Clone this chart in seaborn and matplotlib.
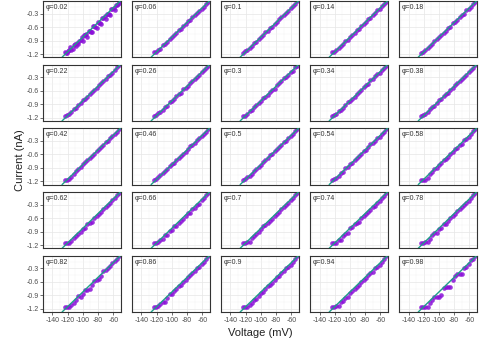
import numpy as np
import pandas as pd
import matplotlib
matplotlib.use("Agg")
import matplotlib.pyplot as plt
import seaborn as sns

# ---------------- data ----------------
phi_labels = ["0.02", "0.06", "0.1", "0.14", "0.18",
              "0.22", "0.26", "0.3", "0.34", "0.38",
              "0.42", "0.46", "0.5", "0.54", "0.58",
              "0.62", "0.66", "0.7", "0.74", "0.78",
              "0.82", "0.86", "0.9", "0.94", "0.98"]

voltage = [-124, -121, -118, -115, -112, -109, -106, -103, -100, -97, -94, -91, -88,
           -85, -82, -79, -76, -73, -70, -67, -64, -61, -58, -55, -52]
voltage_extra = [-122.5, -119.5, -116.5, -113.5, -110.5, -107.5, -104.5, -101.5, -98.5,
                 -95.5, -92.5, -89.5, -86.5, -83.5, -80.5, -77.5, -74.5, -71.5, -68.5,
                 -65.5, -62.5, -59.5, -56.5, -53.5, -51.5]
current_extra_002 = [-1.18, -1.13, -1.05, -1.08, -0.97, -0.95, -0.90, -0.83, -0.78, -0.76, -0.68,
                     -0.70, -0.58, -0.60, -0.48, -0.50, -0.40, -0.36, -0.30, -0.30, -0.20, -0.18,
                     -0.10, -0.08, -0.02]

currents = {
    "0.02": [-1.15, -1.17, -1.10, -1.12, -1.00, -1.03, -0.97, -0.88, -0.90, -0.78, -0.82, -0.68, -0.70,
             -0.58, -0.62, -0.50, -0.53, -0.40, -0.43, -0.30, -0.33, -0.20, -0.22, -0.10, -0.06],
    "0.06": [-1.16, -1.15, -1.10, -1.08, -1.01, -0.97, -0.93, -0.86, -0.83, -0.77, -0.74, -0.67, -0.64,
             -0.58, -0.54, -0.47, -0.44, -0.38, -0.34, -0.28, -0.24, -0.19, -0.15, -0.08, -0.04],
    "0.1": [-1.17, -1.14, -1.11, -1.06, -1.03, -0.96, -0.93, -0.87, -0.81, -0.78, -0.72, -0.69, -0.62,
            -0.59, -0.53, -0.49, -0.43, -0.37, -0.34, -0.28, -0.25, -0.18, -0.14, -0.09, -0.03],
    "0.14": [-1.16, -1.16, -1.12, -1.06, -1.02, -0.98, -0.91, -0.88, -0.82, -0.77, -0.73, -0.67, -0.64,
             -0.57, -0.54, -0.48, -0.42, -0.39, -0.33, -0.29, -0.23, -0.20, -0.13, -0.09, -0.05],
    "0.18": [-1.17, -1.15, -1.10, -1.07, -1.03, -0.97, -0.92, -0.86, -0.83, -0.77, -0.73, -0.68, -0.62,
             -0.59, -0.52, -0.48, -0.44, -0.37, -0.33, -0.30, -0.23, -0.19, -0.15, -0.08, -0.04],
    "0.22": [-1.16, -1.15, -1.12, -1.07, -1.01, -0.98, -0.92, -0.87, -0.81, -0.78, -0.74, -0.67, -0.63,
             -0.58, -0.54, -0.47, -0.43, -0.38, -0.34, -0.28, -0.24, -0.20, -0.14, -0.08, -0.03],
    "0.26": [-1.17, -1.14, -1.10, -1.08, -1.02, -0.96, -0.93, -0.86, -0.82, -0.79, -0.72, -0.68, -0.64,
             -0.57, -0.53, -0.49, -0.42, -0.38, -0.33, -0.29, -0.25, -0.18, -0.14, -0.10, -0.04],
    "0.3": [-1.16, -1.16, -1.11, -1.06, -1.03, -0.97, -0.91, -0.88, -0.83, -0.76, -0.73, -0.69, -0.62,
            -0.58, -0.55, -0.47, -0.43, -0.39, -0.32, -0.29, -0.24, -0.19, -0.15, -0.08, -0.05],
    "0.34": [-1.17, -1.15, -1.12, -1.06, -1.02, -0.98, -0.92, -0.86, -0.82, -0.78, -0.74, -0.67, -0.63,
             -0.59, -0.52, -0.48, -0.44, -0.37, -0.34, -0.28, -0.23, -0.20, -0.13, -0.09, -0.04],
    "0.38": [-1.16, -1.14, -1.11, -1.08, -1.01, -0.97, -0.93, -0.87, -0.81, -0.78, -0.72, -0.68, -0.64,
             -0.58, -0.53, -0.48, -0.43, -0.38, -0.33, -0.30, -0.24, -0.18, -0.14, -0.09, -0.03],
    "0.42": [-1.16, -1.16, -1.15, -1.10, -1.03, -0.96, -0.92, -0.87, -0.82, -0.77, -0.73, -0.68, -0.63,
             -0.58, -0.53, -0.48, -0.43, -0.38, -0.33, -0.29, -0.24, -0.19, -0.14, -0.09, -0.04],
    "0.46": [-1.17, -1.15, -1.11, -1.06, -1.02, -0.97, -0.93, -0.86, -0.82, -0.78, -0.73, -0.67, -0.64,
             -0.58, -0.54, -0.48, -0.42, -0.38, -0.34, -0.28, -0.24, -0.19, -0.15, -0.09, -0.04],
    "0.5": [-1.16, -1.15, -1.10, -1.07, -1.03, -0.96, -0.92, -0.87, -0.83, -0.77, -0.72, -0.68, -0.62,
            -0.59, -0.53, -0.47, -0.44, -0.38, -0.33, -0.29, -0.23, -0.19, -0.14, -0.08, -0.04],
    "0.54": [-1.17, -1.14, -1.12, -1.07, -1.02, -0.98, -0.91, -0.87, -0.82, -0.79, -0.73, -0.68, -0.63,
             -0.58, -0.52, -0.49, -0.43, -0.37, -0.34, -0.29, -0.24, -0.20, -0.14, -0.09, -0.03],
    "0.58": [-1.16, -1.16, -1.16, -1.12, -1.04, -0.98, -0.93, -0.90, -0.84, -0.80, -0.72, -0.70, -0.66,
             -0.60, -0.55, -0.47, -0.45, -0.40, -0.36, -0.28, -0.25, -0.20, -0.15, -0.08, -0.03],
    "0.62": [-1.16, -1.16, -1.15, -1.10, -1.05, -0.99, -0.95, -0.90, -0.84, -0.82, -0.72, -0.70, -0.68,
             -0.60, -0.56, -0.50, -0.46, -0.40, -0.36, -0.30, -0.26, -0.20, -0.15, -0.08, -0.03],
    "0.66": [-1.15, -1.15, -1.14, -1.08, -1.06, -0.98, -0.98, -0.88, -0.86, -0.78, -0.78, -0.70, -0.66,
             -0.62, -0.56, -0.48, -0.48, -0.40, -0.37, -0.30, -0.28, -0.20, -0.16, -0.08, -0.03],
    "0.7": [-1.16, -1.16, -1.13, -1.12, -1.04, -1.00, -0.95, -0.90, -0.85, -0.78, -0.76, -0.70, -0.66,
            -0.62, -0.55, -0.50, -0.46, -0.40, -0.35, -0.30, -0.26, -0.20, -0.15, -0.09, -0.04],
    "0.74": [-1.15, -1.15, -1.15, -1.08, -1.08, -1.00, -0.96, -0.92, -0.82, -0.80, -0.74, -0.70, -0.68,
             -0.60, -0.56, -0.50, -0.46, -0.42, -0.35, -0.32, -0.26, -0.22, -0.15, -0.10, -0.03],
    "0.78": [-1.16, -1.16, -1.14, -1.12, -1.06, -0.98, -0.94, -0.92, -0.84, -0.82, -0.74, -0.72, -0.66,
             -0.60, -0.56, -0.50, -0.44, -0.40, -0.35, -0.30, -0.26, -0.21, -0.14, -0.09, -0.03],
    "0.82": [-1.15, -1.16, -1.15, -1.12, -1.06, -1.00, -0.92, -0.94, -0.88, -0.78, -0.78, -0.76, -0.68,
             -0.58, -0.56, -0.54, -0.46, -0.36, -0.33, -0.30, -0.24, -0.18, -0.14, -0.08, -0.02],
    "0.86": [-1.16, -1.16, -1.14, -1.10, -1.04, -1.04, -0.96, -0.88, -0.86, -0.80, -0.76, -0.70, -0.66,
             -0.60, -0.56, -0.50, -0.44, -0.40, -0.36, -0.30, -0.26, -0.20, -0.16, -0.09, -0.03],
    "0.9": [-1.15, -1.15, -1.15, -1.12, -1.06, -1.00, -0.98, -0.92, -0.84, -0.82, -0.76, -0.70, -0.68,
            -0.62, -0.56, -0.50, -0.46, -0.40, -0.36, -0.30, -0.26, -0.22, -0.15, -0.08, -0.03],
    "0.94": [-1.16, -1.16, -1.14, -1.14, -1.04, -1.02, -0.96, -0.94, -0.84, -0.80, -0.76, -0.72, -0.68,
             -0.60, -0.56, -0.52, -0.44, -0.40, -0.37, -0.30, -0.26, -0.22, -0.15, -0.10, -0.03],
    "0.98": [-1.15, -1.15, -1.15, -1.15, -1.06, -1.00, -0.94, -0.94, -0.94, -0.90, -0.74, -0.72, -0.72,
             -0.72, -0.56, -0.48, -0.42, -0.42, -0.42, -0.30, -0.26, -0.20, -0.12, -0.08, -0.02],
}

# fitted line (abline)
fit_slope = 0.01633
fit_intercept = 0.809

x_ticks = [-140, -120, -100, -80, -60]
y_ticks = [-0.3, -0.6, -0.9, -1.2]

# ---------------- build table ----------------
rows = []
for lab in phi_labels:
    for v, c in zip(voltage, currents[lab]):
        rows.append({"phi": lab, "Voltage": v, "Current": c})
for v, c in zip(voltage_extra, current_extra_002):
    rows.append({"phi": "0.02", "Voltage": v, "Current": c})
df = pd.DataFrame(rows)

# ---------------- style ----------------
sns.set_theme(style="white")
plt.rcParams["font.family"] = ["Liberation Sans", "DejaVu Sans"]
plt.rcParams["axes.unicode_minus"] = False

point_color = "#8a10d8"
line_color = "#1f9e89"

g = sns.FacetGrid(df, col="phi", col_order=phi_labels, col_wrap=5,
                  sharex=True, sharey=True, height=1, aspect=1, despine=False)
g.map_dataframe(sns.scatterplot, x="Voltage", y="Current", color=point_color,
                s=11, linewidth=0, alpha=0.85, zorder=2)

fig = g.figure
fig.set_size_inches(4.8, 3.43)
fig.set_dpi(100)

fmt = matplotlib.ticker.FuncFormatter(lambda v, p: f"{v:g}")
for i, (lab, ax) in enumerate(zip(phi_labels, g.axes.flat)):
    ax.axline((0, fit_intercept), slope=fit_slope, color=line_color, lw=1.0, zorder=3)
    ax.set_xlim(-152, -50)
    ax.set_ylim(-1.27, -0.02)
    ax.set_xticks(x_ticks)
    ax.set_yticks(y_ticks)
    ax.set_xticks([-150, -130, -110, -90, -70, -50], minor=True)
    ax.set_yticks([-0.15, -0.45, -0.75, -1.05], minor=True)
    ax.xaxis.set_major_formatter(fmt)
    ax.yaxis.set_major_formatter(fmt)
    ax.grid(True, which="major", color="#e6e6e6", lw=0.5)
    ax.grid(True, which="minor", color="#f2f2f2", lw=0.3)
    ax.set_axisbelow(True)
    ax.set_facecolor("white")
    for sp in ax.spines.values():
        sp.set_color("#333333")
        sp.set_linewidth(0.8)
    col = i % 5
    row = i // 5
    ax.tick_params(axis="both", which="major", length=2, width=0.5, color="#333333",
                   labelsize=5, labelcolor="#4d4d4d", pad=1.5, direction="out",
                   left=(col == 0), labelleft=(col == 0),
                   bottom=(row == 4), labelbottom=(row == 4))
    ax.tick_params(axis="both", which="minor", length=0)
    ax.set_title("")
    ax.set_xlabel("")
    ax.set_ylabel("")
    ax.text(0.03, 0.95, "φ=" + lab, transform=ax.transAxes, ha="left", va="top",
            fontsize=5, color="#333333")

fig.subplots_adjust(left=43.3 / 480, right=477 / 480, top=1 - 1 / 343, bottom=1 - 312 / 343,
                    wspace=0.148, hspace=0.134)

fig.text(260 / 480, 1 - 333 / 343, "Voltage (mV)", ha="center", va="center", fontsize=8,
         color="#222222")
fig.text(20 / 480, 1 - 160 / 343, "Current (nA)", ha="center", va="center", rotation=90,
         fontsize=8, color="#222222")

fig.savefig("out.png", dpi=100)
